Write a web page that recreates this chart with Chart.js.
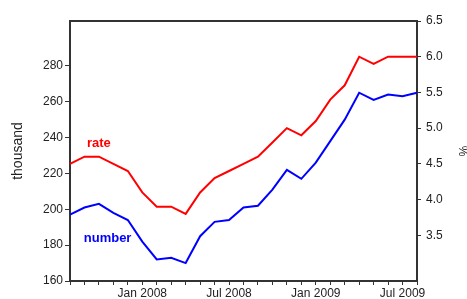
<!DOCTYPE html>
<html><head><meta charset="utf-8">
<script src="https://cdn.jsdelivr.net/npm/chart.js@4/dist/chart.umd.min.js"></script>
<style>html,body{margin:0;padding:0;background:#fff}#wrap{width:467px;height:299px}</style>
</head><body><div id="wrap"><canvas id="c" width="467" height="299"></canvas></div>
<script>
const months = ['Aug 2007','Sep 2007','Oct 2007','Nov 2007','Dec 2007','Jan 2008','Feb 2008','Mar 2008','Apr 2008','May 2008','Jun 2008','Jul 2008','Aug 2008','Sep 2008','Oct 2008','Nov 2008','Dec 2008','Jan 2009','Feb 2009','Mar 2009','Apr 2009','May 2009','Jun 2009','Jul 2009','Aug 2009'];
const numberThousand = [197, 201, 203, 198, 194, 182, 172, 173, 170, 185, 193, 194, 201, 202, 211, 222, 217, 226, 238, 250, 265, 261, 264, 263, 265];
const ratePct = [4.5, 4.6, 4.6, 4.5, 4.4, 4.1, 3.9, 3.9, 3.8, 4.1, 4.3, 4.4, 4.5, 4.6, 4.8, 5.0, 4.9, 5.1, 5.4, 5.6, 6.0, 5.9, 6.0, 6.0, 6.0];
const leftTicks = [160, 180, 200, 220, 240, 260, 280];
const rightTicks = [3.5, 4.0, 4.5, 5.0, 5.5, 6.0, 6.5];
const labeledMonths = ['Jan 2008', 'Jul 2008', 'Jan 2009', 'Jul 2009'];

const FONT = 'Liberation Sans, Arial, sans-serif';
const AXIS = '#333';

const framePlugin = {
  id: 'frame',
  afterDraw(chart) {
    const {ctx, chartArea: a} = chart;
    ctx.save();
    ctx.strokeStyle = AXIS;
    ctx.lineWidth = 2;
    ctx.beginPath();
    ctx.moveTo(a.left - 1, a.top);
    ctx.lineTo(a.right + 1, a.top);
    ctx.stroke();
    ctx.restore();
  }
};

const notesPlugin = {
  id: 'notes',
  afterDatasetsDraw(chart) {
    const {ctx, scales} = chart;
    ctx.save();
    ctx.font = 'bold 13px ' + FONT;
    ctx.textAlign = 'center';
    ctx.textBaseline = 'middle';
    ctx.fillStyle = '#ff0000';
    ctx.fillText('rate', scales.x.getPixelForValue(2.0), scales.yL.getPixelForValue(237));
    ctx.fillStyle = '#0000ff';
    ctx.fillText('number', scales.x.getPixelForValue(2.6), scales.yL.getPixelForValue(184));
    ctx.restore();
  }
};

new Chart(document.getElementById('c'), {
  type: 'line',
  data: {
    labels: months,
    datasets: [
      {label: 'rate', data: ratePct, yAxisID: 'yR', borderColor: '#ff0000', borderWidth: 2, pointRadius: 0, tension: 0, fill: false},
      {label: 'number', data: numberThousand, yAxisID: 'yL', borderColor: '#0000ff', borderWidth: 2, pointRadius: 0, tension: 0, fill: false}
    ]
  },
  options: {
    responsive: false,
    animation: false,
    devicePixelRatio: 1,
    layout: {padding: {top: 21, left: 0, right: 0, bottom: 0}},
    plugins: {legend: {display: false}, tooltip: {enabled: false}},
    scales: {
      x: {
        type: 'category',
        offset: false,
        grid: {drawOnChartArea: false, drawTicks: true, tickLength: 4, color: AXIS, lineWidth: 1},
        border: {display: true, color: AXIS, width: 2},
        ticks: {
          autoSkip: false, maxRotation: 0, minRotation: 0, padding: 1,
          color: '#222', font: {family: FONT, size: 12},
          callback: (v, i) => labeledMonths.includes(months[i]) ? months[i] : ''
        },
        afterFit: s => { s.height = 18; }
      },
      yL: {
        position: 'left', min: 160, max: 305,
        afterBuildTicks: s => { s.ticks = leftTicks.map(v => ({value: v})); },
        grid: {drawOnChartArea: false, drawTicks: true, tickLength: 5, color: AXIS, lineWidth: 1},
        border: {display: true, color: AXIS, width: 2},
        ticks: {padding: 2, color: '#222', font: {family: FONT, size: 12}},
        title: {display: true, text: 'thousand', color: '#222', font: {family: FONT, size: 14}, padding: {top: 10, bottom: 0}},
        afterFit: s => { s.width = 70; }
      },
      yR: {
        position: 'right', min: 2.86, max: 6.5,
        afterBuildTicks: s => { s.ticks = rightTicks.map(v => ({value: v})); },
        grid: {drawOnChartArea: false, drawTicks: true, tickLength: 4, color: AXIS, lineWidth: 1},
        border: {display: true, color: AXIS, width: 2},
        ticks: {padding: 5, color: '#222', font: {family: FONT, size: 12}, callback: v => Number(v).toFixed(1)},
        title: {display: true, text: '%', color: '#222', font: {family: FONT, size: 12, lineHeight: 0.7}, padding: {top: 0, bottom: 0}},
        afterFit: s => { s.width = 50; }
      }
    }
  },
  plugins: [framePlugin, notesPlugin]
});
</script>
</body></html>
